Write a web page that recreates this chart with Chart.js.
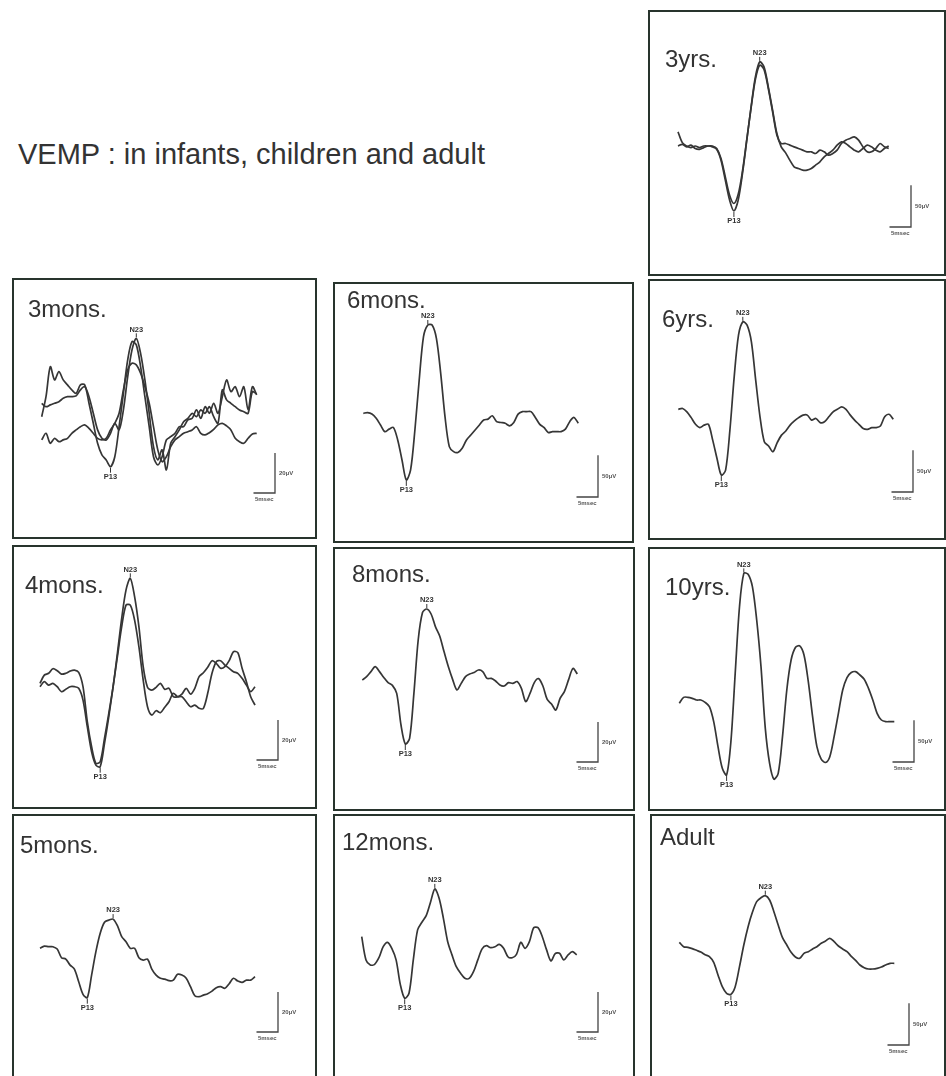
<!DOCTYPE html>
<html>
<head>
<meta charset="utf-8">
<script src="https://cdn.jsdelivr.net/npm/chart.js@4/dist/chart.umd.min.js"></script>
<style>
    body { margin: 0; background: #fff; width: 946px; height: 1076px; overflow: hidden; position: relative;
           font-family: "Liberation Sans", Arial, sans-serif; }
    #title { position: absolute; left: 18px; top: 140px; font-size: 29px; line-height: 29px; color: #333; white-space: nowrap; }
    .panel { position: absolute; box-sizing: border-box; border: 2px solid #28342d; background: #fff; }
    .panel canvas { display: block; }
</style>
</head>
<body>
<div id="title">VEMP : in infants, children and adult</div>
<script>
// time axis (msec) shared by every trace
const timeMs = [0, 1, 2, 3, 4, 5, 6, 7, 8, 9, 10, 11, 12, 13, 14, 15, 16, 17, 18, 19, 20,
    21, 22, 23, 24, 25, 26, 27, 28, 29, 30, 31, 32, 33, 34, 35, 36, 37, 38, 39, 40,
    41, 42, 43, 44, 45, 46, 47, 48, 49, 50];

const panelLabels = ['3yrs.', '3mons.', '6mons.', '6yrs.', '4mons.', '8mons.', '10yrs.', '5mons.', '12mons.', 'Adult'];
const scaleUv = [50, 20, 50, 50, 20, 20, 50, 20, 20, 50];

// amplitudes (µV)
const yrs3A = [17, 4, 0, -2, 0, -2, 0, 0, -1, -4, -17, -41, -65, -78, -65, -33, 7, 47, 83, 101, 95, 71, 43, 15, -1,
    -8, -17, -25, -27, -29, -29, -27, -23, -19, -13, -9, -5, 1, 5, 3, -1, -5, -7, -3, 1, -1, -5, -7, -3, 0];
const yrs3B = [0, 2, -1, 1, -3, -4, -2, 0, 0, -3, -15, -37, -59, -69, -58, -30, 8, 46, 80, 97, 92, 69, 41, 13, 3,
    3, 1, -1, -3, -5, -7, -7, -9, -5, -7, -11, -9, -5, 3, 7, 9, 11, 7, -1, -7, -7, -3, 3, -1, -3];
const mons3A = [-6.7, 3.3, 18.3, 11.7, 15.8, 11.7, 9.2, 6.7, 5, 9.2, 9.2, 0, -10, -20, -25.8, -28.3, -31.7, -26.7,
    -11.7, 5, 21.7, 30.8, 29.2, 18.3, 3.3, -11.7, -26.7, -30.8, -26.7, -18.3, -16.7, -15, -11.7, -11.7, -8.3, -7.5,
    -3.3, -7.5, -1.7, -5, 0, -5, 3.3, 11.7, 5.8, 8.3, 3.3, 8.3, -3.3, 8.3, 4.2];
const mons3B = [0, -1.7, -0.8, 0, 0.8, 2.5, 3.3, 3.3, 3.7, 6.7, 8.3, 3.3, -5, -13.3, -17.5, -18.3, -15, -10, -13.3,
    -3.3, 13.3, 26.7, 32.5, 25, 11.7, -5, -21.7, -28.3, -23.3, -33.3, -20, -16.7, -13.3, -9.2, -7.5, -5, -6.7, -3.3,
    -5, -1.7, -6.7, -10, 6.7, 1.7, 0, -1.7, -3.3, -4.2, -5, 5.8, 4.7];
const mons3C = [-18.3, -15, -20, -17.5, -19.2, -18.3, -17.5, -15, -13.3, -11.7, -10.8, -12.5, -15, -17.5, -18.3,
    -17.5, -13.3, -10, -5, 6.7, 16.7, 20, 19.2, 15, 8.3, 0, -11.7, -23.3, -29.2, -26.7, -21.7, -18.3, -16.7, -15,
    -14.2, -13.3, -11.7, -15, -15.8, -14.7, -13, -10.8, -10, -11.3, -13.3, -17.5, -19.2, -20, -17.5, -15.3, -15];
const mons6 = [0, 0.8, -0.8, -6, -14, -22, -19, -17, -32, -56, -80, -68, -20, 40, 92, 106, 106, 90, 48, -4, -40,
    -46, -47, -42, -32, -26, -20, -14, -8, -7, -3, -10, -11, -12, -15, -11, -1, 2, 2, 2, -5, -13, -17, -23, -22,
    -22, -22, -19, -10, -5, -12];
const yrs6 = [0, 1, -3, -10, -18, -22, -19, -18, -37, -59, -79, -73, -25, 39, 89, 105, 101, 81, 35, -9, -39, -44,
    -51, -40, -31, -26, -19, -14, -10, -7, -7, -13, -11, -16, -15, -9, -3, 0, 3, 0, -7, -13, -18, -23, -24, -22,
    -22, -20, -9, -6, -12];
const mons4A = [-3.3, 0.8, 1.7, 4, 3, 1.3, 1.7, 2.8, 3.3, 2.2, -5, -22.5, -35, -43.3, -42.5, -30.8, -18.3, -5, 11.7,
    29.2, 43.3, 49.2, 40, 25, 5, -5.3, -6.7, -5.3, -3.3, -6.3, -5.8, -10, -10, -8.7, -5.8, -8.7, -5.8, 0, 2, 4.7, 8,
    6.7, 4.2, 5, 8, 12.5, 12, 4.2, -2.5, -10, -14.2];
const mons4B = [-5, -2.5, -4.2, -3.3, -5, -7.5, -6.3, -5, -5, -5.8, -11.7, -25, -37.5, -44.2, -45, -33.3, -20, -5,
    10, 25, 35.8, 35.8, 28.3, 15, -1.7, -15, -19.2, -17, -18, -15.3, -12.5, -8.3, -10, -10, -12.5, -15, -14.2,
    -15.8, -15.8, -8.3, 1.7, 7.5, 8, 5.8, 4.2, 2.5, 1.7, -0.8, -4.2, -7.5, -5];
const mons8 = [0, 1.7, 4.2, 6.7, 4.2, 1.3, -1.3, -2.7, -6.7, -22.5, -32, -29.2, -6.7, 20, 33.7, 35.5, 33, 26.7, 22,
    14.2, 6.7, 0.3, -5, -1.7, 1.7, 3, 3.7, 5, 4.2, 0.8, 0.8, -0.5, -2.5, -3, -1.3, -1.7, -0.8, -4.2, -10.8, -6.7,
    -1.3, 0.7, -3, -9.7, -12, -15, -9.2, -5.8, 0.3, 5.8, 3];
const yrs10 = [-4, 3.2, 3.2, 2, 0, 0, -2.8, -8, -26, -56, -82, -90, -50, 32, 112, 152, 151, 136, 96, 40, -34, -76,
    -95, -88, -44, 12, 48, 63, 65, 54, 22, -20, -56, -71, -75, -68, -44, -16, 12, 27, 33, 34, 30, 25, 14, 0, -16,
    -24, -26, -26, -26];
const mons5 = [-0.8, 0.3, 0, 0, -1.2, -5.5, -6.2, -9.2, -11.2, -17.5, -23.8, -25.5, -14.2, -2.5, 6.7, 12.2, 13.3,
    13.8, 10.5, 5, 2.5, -0.8, -0.8, -5.5, -6.7, -6.2, -11.2, -14.2, -15.8, -16.2, -17, -16.7, -13.8, -14.2, -15.8,
    -20, -24.5, -25, -24.2, -23.5, -22.2, -20.5, -20, -20.8, -18.5, -15.8, -17.2, -17.8, -16.7, -16.7, -15];
const mons12 = [0.8, -10.8, -13.3, -13, -9.7, -4.2, -2, -5, -10.8, -23.3, -30, -27.5, -10.8, 4.2, 8, 11.3, 18, 24.7,
    20, 10, -1.7, -8.3, -14.2, -17.5, -20, -20, -16.7, -10.8, -5.3, -3.7, -4.7, -4.2, -3, -5, -9.2, -9.7, -8, -2,
    -5, -1.7, 5.3, 5.3, 0.8, -5.8, -11.3, -7.7, -7.5, -10.8, -8.3, -6.7, -8.3];
const adult = [3.2, -2, -2.8, -4.4, -6.4, -8.4, -11.6, -14, -20.8, -36, -50, -58, -59.2, -50, -26, 0, 22, 39.2, 52,
    56.8, 59.2, 54, 40, 24, 8.8, 0, -8.8, -14.4, -16, -10, -8, -4.8, -2, 2, 4.8, 8, 4, -1.2, -4.8, -8, -13.6, -18.4,
    -24, -27.2, -28.8, -28.8, -28, -26.4, -24, -22, -22];

const panelSeries = [
    [yrs3A, yrs3B], [mons3A, mons3B, mons3C], [mons6], [yrs6],
    [mons4A, mons4B], [mons8], [yrs10], [mons5], [mons12], [adult]
];

// page layout: box = [left, top, width, height]; origin = where 0 ms / 0 µV sits;
// label = [x, baseline]; bar = corner of the L-shaped calibration bar
const layout = [
    { box: [648, 10, 298, 266], origin: [678, 146], label: [665, 67], bar: [911, 227] },
    { box: [12, 278, 305, 261], origin: [41.7, 403.3], label: [28, 317], bar: [275, 493] },
    { box: [333, 282, 301, 261], origin: [363.3, 413.3], label: [347, 308], bar: [598, 497] },
    { box: [648, 279, 298, 261], origin: [678.3, 409.3], label: [662, 327], bar: [913, 492] },
    { box: [12, 545, 305, 264], origin: [40, 676.7], label: [25, 593], bar: [278, 760] },
    { box: [333, 547, 302, 264], origin: [362.3, 680], label: [352, 582], bar: [598, 762] },
    { box: [648, 547, 298, 264], origin: [679.3, 700], label: [665, 595], bar: [914, 762] },
    { box: [12, 814, 305, 270], origin: [40, 946.7], label: [20, 853], bar: [278, 1032] },
    { box: [333, 814, 302, 270], origin: [361.7, 938.3], label: [342, 850], bar: [598, 1032] },
    { box: [650, 814, 296, 270], origin: [679.3, 945], label: [660, 845], bar: [909, 1045] }
];

const PX_PER_MS = 4.3;
const PX_PER_UV = { 50: 0.833, 20: 2 };
const BORDER = 2;
const INK = '#333';

function findPeaks(series) {
    let peak = { v: -Infinity, j: 0 };
    series.forEach(s => s.forEach((v, j) => { if (timeMs[j] <= 30 && v > peak.v) peak = { v, j }; }));
    let trough = { v: Infinity, j: 0 };
    series.forEach(s => s.forEach((v, j) => { if (j < peak.j && v < trough.v) trough = { v, j }; }));
    return { peak, trough };
}

panelSeries.forEach((series, i) => {
    const L = layout[i];
    const div = document.createElement('div');
    div.className = 'panel';
    div.style.left = L.box[0] + 'px';
    div.style.top = L.box[1] + 'px';
    div.style.width = L.box[2] + 'px';
    div.style.height = L.box[3] + 'px';
    const canvas = document.createElement('canvas');
    const cw = L.box[2] - 2 * BORDER, ch = L.box[3] - 2 * BORDER;
    canvas.width = cw;
    canvas.height = ch;
    div.appendChild(canvas);
    document.body.appendChild(div);

    const cl = L.box[0] + BORDER, ct = L.box[1] + BORDER;
    const ky = PX_PER_UV[scaleUv[i]];
    const xMin = (cl - L.origin[0]) / PX_PER_MS;
    const yMax = (L.origin[1] - ct) / ky;
    const marks = findPeaks(series);

    const decor = {
        id: 'decor',
        afterDatasetsDraw(chart) {
            const ctx = chart.ctx, xs = chart.scales.x, ys = chart.scales.y;
            ctx.save();
            ctx.fillStyle = INK;
            ctx.strokeStyle = INK;
            ctx.font = '24px "Liberation Sans", Arial, sans-serif';
            ctx.textAlign = 'left';
            ctx.textBaseline = 'alphabetic';
            ctx.fillText(panelLabels[i], L.label[0] - cl, L.label[1] - ct);

            // N23 / P13 markers
            ctx.font = 'bold 7.5px "Liberation Sans", Arial, sans-serif';
            ctx.textAlign = 'center';
            ctx.lineWidth = 1;
            const nx = xs.getPixelForValue(timeMs[marks.peak.j]), ny = ys.getPixelForValue(marks.peak.v);
            ctx.textBaseline = 'bottom';
            ctx.fillText('N23', nx, ny - 5);
            ctx.beginPath(); ctx.moveTo(nx, ny - 5); ctx.lineTo(nx, ny - 1); ctx.stroke();
            const px = xs.getPixelForValue(timeMs[marks.trough.j]), py = ys.getPixelForValue(marks.trough.v);
            ctx.textBaseline = 'top';
            ctx.fillText('P13', px, py + 6);
            ctx.beginPath(); ctx.moveTo(px, py + 1); ctx.lineTo(px, py + 6); ctx.stroke();

            // calibration bar
            const bx = L.bar[0] - cl, by = L.bar[1] - ct;
            const vLen = ys.getPixelForValue(0) - ys.getPixelForValue(scaleUv[i]);
            const hLen = xs.getPixelForValue(5) - xs.getPixelForValue(0);
            ctx.strokeStyle = '#444';
            ctx.lineWidth = 1.3;
            ctx.beginPath();
            ctx.moveTo(bx, by - vLen); ctx.lineTo(bx, by); ctx.lineTo(bx - hLen, by);
            ctx.stroke();
            ctx.fillStyle = '#555';
            ctx.font = 'bold 6px "Liberation Sans", Arial, sans-serif';
            ctx.textAlign = 'left';
            ctx.textBaseline = 'middle';
            ctx.fillText(scaleUv[i] + 'µV', bx + 4, by - vLen / 2);
            ctx.textAlign = 'center';
            ctx.textBaseline = 'top';
            ctx.fillText('5msec', bx - hLen / 2, by + 3);
            ctx.restore();
        }
    };

    new Chart(canvas, {
        type: 'line',
        data: {
            datasets: series.map(s => ({
                data: s.map((v, j) => ({ x: timeMs[j], y: v })),
                borderColor: '#363636',
                borderWidth: 1.7,
                tension: 0.3,
                pointRadius: 0,
                fill: false
            }))
        },
        options: {
            responsive: false,
            animation: false,
            events: [],
            layout: { padding: 0 },
            plugins: { legend: { display: false }, tooltip: { enabled: false } },
            scales: {
                x: { type: 'linear', display: false, min: xMin, max: xMin + cw / PX_PER_MS },
                y: { type: 'linear', display: false, min: yMax - ch / ky, max: yMax }
            }
        },
        plugins: [decor]
    });
});
</script>
</body>
</html>
